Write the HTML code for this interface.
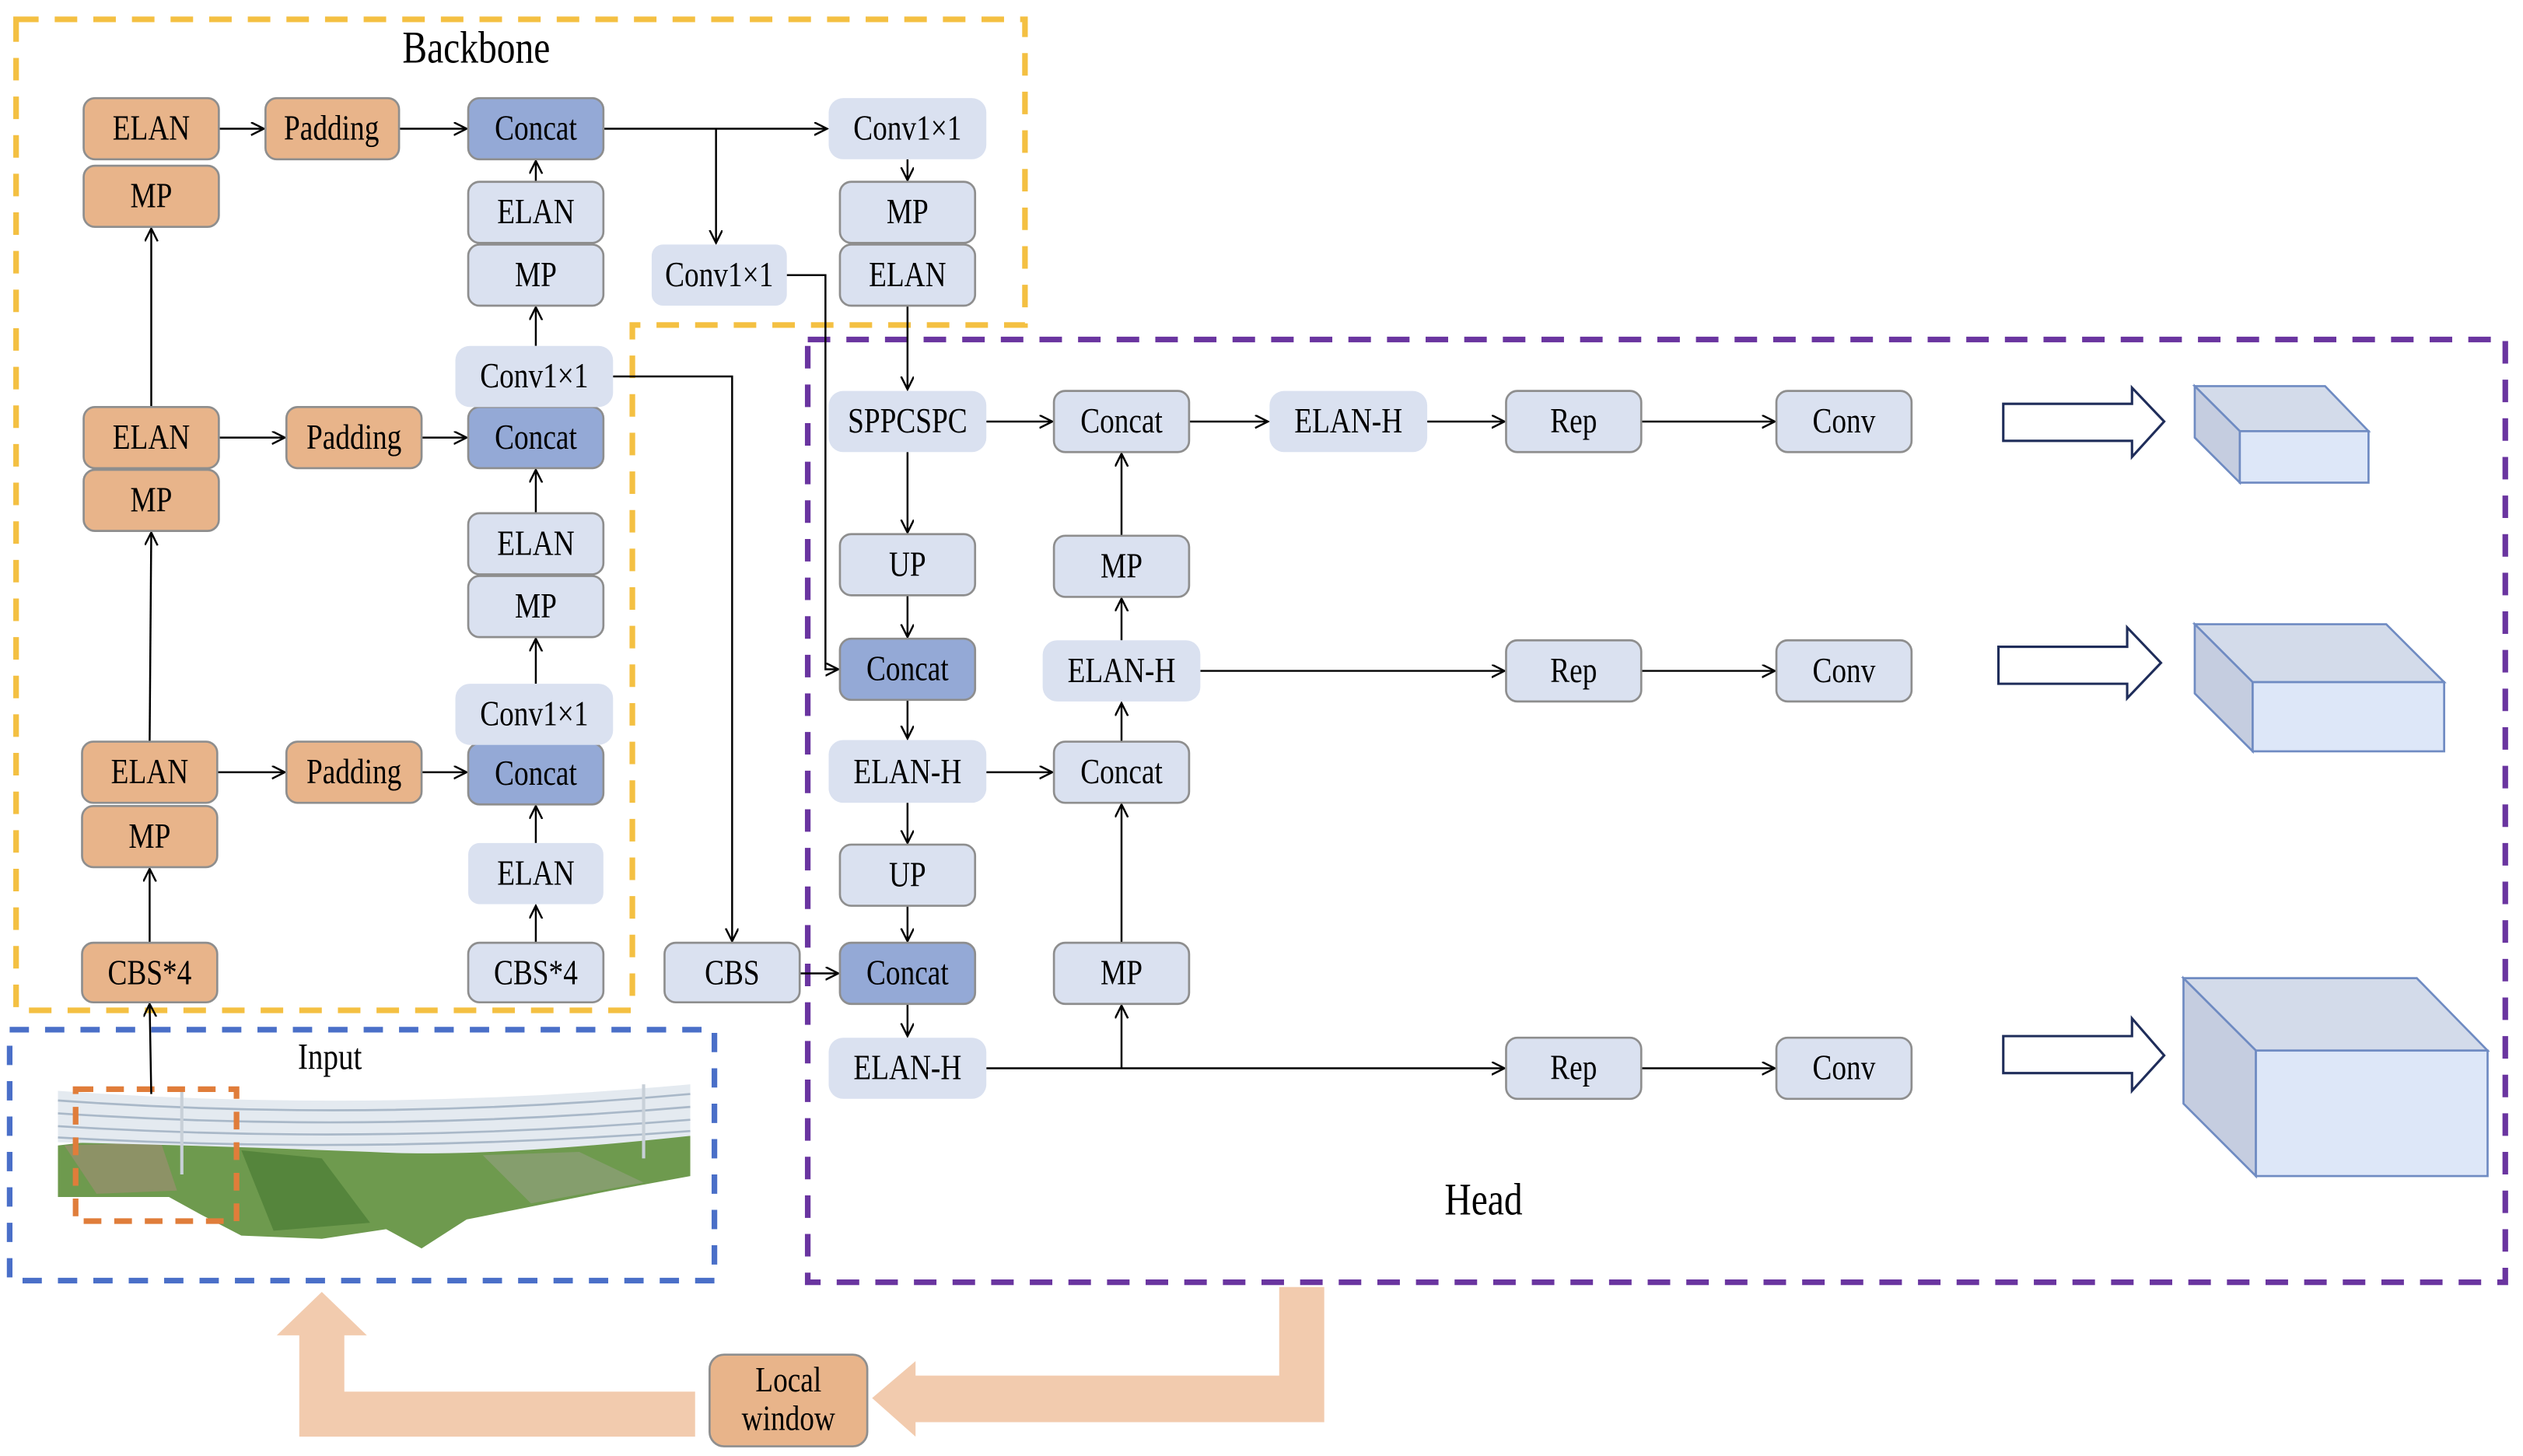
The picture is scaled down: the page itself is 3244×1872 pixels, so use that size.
<!DOCTYPE html>
<html><head><meta charset="utf-8"><style>
html,body{margin:0;padding:0;background:#fff;}
svg{display:block;}
.o{fill:#E8B48A;stroke:#8E8E8E;stroke-width:1.3}
.l{fill:#DAE1F0;stroke:#8E8E8E;stroke-width:1.3}
.n{fill:#DAE1F0;stroke:none}
.b{fill:#94A9D6;stroke:#8E8E8E;stroke-width:1.3}
text{font-family:"Liberation Serif","DejaVu Serif",serif;font-size:22px;fill:#000;text-anchor:middle;dominant-baseline:central;transform-box:fill-box;transform-origin:center;transform:scaleX(0.82)}
.ln{stroke:#000;stroke-width:1.2;fill:none}
</style></head><body>
<svg width="3244" height="1872" viewBox="0 0 1568 905" preserveAspectRatio="none" xmlns="http://www.w3.org/2000/svg">
<defs>
<marker id="a" markerUnits="userSpaceOnUse" markerWidth="10" markerHeight="10" refX="8" refY="4" orient="auto">
<path d="M0,0 L8,4 L0,8" fill="none" stroke="#000" stroke-width="1.2"/>
</marker>
</defs>

<path d="M10,12 H637 V202 H393 V628 H10 Z" fill="none" stroke="#F4C042" stroke-width="3.5" stroke-dasharray="14,10"/>
<rect x="502" y="211" width="1055" height="586" fill="none" stroke="#6A35A0" stroke-width="3.5" stroke-dasharray="14,10"/>
<rect x="6" y="640" width="438" height="156" fill="none" stroke="#4A6FC8" stroke-width="3.5" stroke-dasharray="12,10"/>

<text x="296" y="30" style="font-size:28px">Backbone</text>
<text x="205" y="657" style="font-size:23px">Input</text>
<text x="922" y="746" style="font-size:28px">Head</text>

<!-- input image approximation -->
<path d="M36,712 L36,744 L105,744 L125,755 L150,768 L200,770 L240,764 L262,776 L290,758 L330,750 L380,740 L429,731 L429,706 L380,704 L330,710 L300,714 L255,714 L210,712 L160,708 L110,705 L70,708 Z" fill="#6E9A4E"/>
<path d="M40,712 L100,710 L110,740 L60,742 Z" fill="#9A8F70" opacity="0.7"/>
<path d="M150,715 L200,720 L230,760 L170,765 Z" fill="#4F7F38" opacity="0.8"/>
<path d="M300,718 L360,716 L400,735 L330,748 Z" fill="#8FA07A" opacity="0.7"/>
<path d="M36,678 Q230,692 429,674 L429,706 Q300,720 230,716 Q130,712 36,710 Z" fill="#E4EAF0"/>
<g stroke="#A9B8C8" stroke-width="1.3" fill="none">
<path d="M36,684 Q230,698 429,680"/>
<path d="M36,692 Q230,705 429,688"/>
<path d="M36,700 Q230,712 429,696"/>
<path d="M36,707 Q230,718 429,703"/>
</g>
<line x1="113" y1="678" x2="113" y2="730" stroke="#C8D0D8" stroke-width="2"/>
<line x1="400" y1="674" x2="400" y2="720" stroke="#C8D0D8" stroke-width="2"/>
<rect x="47" y="677" width="100" height="82" fill="none" stroke="#E07D3A" stroke-width="3.5" stroke-dasharray="11,8"/>

<path d="M186,893 L186,830 L172,830 L200,803 L228,830 L214,830 L214,865 L432,865 L432,893 Z" fill="#F2CBAE"/>
<path d="M823,800 L823,884 L569,884 L569,893 L542,869 L569,846 L569,855 L795,855 L795,800 Z" fill="#F2CBAE"/>
<rect x="441" y="842" width="98" height="57" rx="9" class="o"/>
<text x="490" y="858">Local</text>
<text x="490" y="882">window</text>

<g class="ln">
<line x1="136" y1="80" x2="164" y2="80" marker-end="url(#a)"/>
<line x1="248" y1="80" x2="290" y2="80" marker-end="url(#a)"/>
<line x1="375" y1="80" x2="514" y2="80" marker-end="url(#a)"/>
<line x1="445" y1="80" x2="445" y2="151" marker-end="url(#a)"/>
<line x1="564" y1="99" x2="564" y2="112" marker-end="url(#a)"/>
<line x1="564" y1="190" x2="564" y2="242" marker-end="url(#a)"/>
<path d="M489,171 H513 V416 H521" marker-end="url(#a)"/>
<line x1="333" y1="113" x2="333" y2="100" marker-end="url(#a)"/>
<line x1="333" y1="215" x2="333" y2="191" marker-end="url(#a)"/>
<line x1="333" y1="319" x2="333" y2="292" marker-end="url(#a)"/>
<line x1="333" y1="425" x2="333" y2="397" marker-end="url(#a)"/>
<line x1="333" y1="524" x2="333" y2="501" marker-end="url(#a)"/>
<line x1="333" y1="586" x2="333" y2="563" marker-end="url(#a)"/>
<line x1="94" y1="253" x2="94" y2="142" marker-end="url(#a)"/>
<line x1="93" y1="461" x2="94" y2="331" marker-end="url(#a)"/>
<line x1="93" y1="586" x2="93" y2="540" marker-end="url(#a)"/>
<line x1="94" y1="680" x2="93" y2="624" marker-end="url(#a)"/>
<line x1="136" y1="272" x2="177" y2="272" marker-end="url(#a)"/>
<line x1="262" y1="272" x2="290" y2="272" marker-end="url(#a)"/>
<line x1="135" y1="480" x2="177" y2="480" marker-end="url(#a)"/>
<line x1="262" y1="480" x2="290" y2="480" marker-end="url(#a)"/>
<path d="M381,234 H455 V585" marker-end="url(#a)"/>
<line x1="497" y1="605" x2="521" y2="605" marker-end="url(#a)"/>
<line x1="564" y1="281" x2="564" y2="331" marker-end="url(#a)"/>
<line x1="564" y1="370" x2="564" y2="396" marker-end="url(#a)"/>
<line x1="564" y1="435" x2="564" y2="459" marker-end="url(#a)"/>
<line x1="564" y1="499" x2="564" y2="524" marker-end="url(#a)"/>
<line x1="564" y1="563" x2="564" y2="585" marker-end="url(#a)"/>
<line x1="564" y1="624" x2="564" y2="644" marker-end="url(#a)"/>
<line x1="613" y1="262" x2="654" y2="262" marker-end="url(#a)"/>
<line x1="739" y1="262" x2="788" y2="262" marker-end="url(#a)"/>
<line x1="887" y1="262" x2="935" y2="262" marker-end="url(#a)"/>
<line x1="1020" y1="262" x2="1103" y2="262" marker-end="url(#a)"/>
<line x1="697" y1="333" x2="697" y2="282" marker-end="url(#a)"/>
<line x1="697" y1="398" x2="697" y2="372" marker-end="url(#a)"/>
<line x1="697" y1="461" x2="697" y2="437" marker-end="url(#a)"/>
<line x1="746" y1="417" x2="935" y2="417" marker-end="url(#a)"/>
<line x1="1020" y1="417" x2="1103" y2="417" marker-end="url(#a)"/>
<line x1="613" y1="480" x2="654" y2="480" marker-end="url(#a)"/>
<line x1="697" y1="586" x2="697" y2="500" marker-end="url(#a)"/>
<line x1="613" y1="664" x2="935" y2="664" marker-end="url(#a)"/>
<line x1="697" y1="664" x2="697" y2="625" marker-end="url(#a)"/>
<line x1="1020" y1="664" x2="1103" y2="664" marker-end="url(#a)"/>
</g>

<rect x="52" y="61" width="84" height="38" rx="7" class="o"/><text x="94" y="80">ELAN</text>
<rect x="52" y="103" width="84" height="38" rx="7" class="o"/><text x="94" y="122">MP</text>
<rect x="165" y="61" width="83" height="38" rx="7" class="o"/><text x="206" y="80">Padding</text>
<rect x="291" y="61" width="84" height="38" rx="7" class="b"/><text x="333" y="80">Concat</text>
<rect x="291" y="113" width="84" height="38" rx="7" class="l"/><text x="333" y="132">ELAN</text>
<rect x="291" y="152" width="84" height="38" rx="7" class="l"/><text x="333" y="171">MP</text>
<rect x="515" y="61" width="98" height="38" rx="9" class="n"/><text x="564" y="80">Conv1×1</text>
<rect x="522" y="113" width="84" height="38" rx="7" class="l"/><text x="564" y="132">MP</text>
<rect x="522" y="152" width="84" height="38" rx="7" class="l"/><text x="564" y="171">ELAN</text>
<rect x="405" y="152" width="84" height="38" rx="7" class="n"/><text x="447" y="171">Conv1×1</text>

<rect x="52" y="253" width="84" height="38" rx="7" class="o"/><text x="94" y="272">ELAN</text>
<rect x="52" y="292" width="84" height="38" rx="7" class="o"/><text x="94" y="311">MP</text>
<rect x="178" y="253" width="84" height="38" rx="7" class="o"/><text x="220" y="272">Padding</text>
<rect x="291" y="253" width="84" height="38" rx="7" class="b"/><text x="333" y="272">Concat</text>
<rect x="283" y="215" width="98" height="38" rx="9" class="n"/><text x="332" y="234">Conv1×1</text>
<rect x="291" y="319" width="84" height="38" rx="7" class="l"/><text x="333" y="338">ELAN</text>
<rect x="291" y="358" width="84" height="38" rx="7" class="l"/><text x="333" y="377">MP</text>

<rect x="51" y="461" width="84" height="38" rx="7" class="o"/><text x="93" y="480">ELAN</text>
<rect x="51" y="501" width="84" height="38" rx="7" class="o"/><text x="93" y="520">MP</text>
<rect x="178" y="461" width="84" height="38" rx="7" class="o"/><text x="220" y="480">Padding</text>
<rect x="291" y="462" width="84" height="38" rx="7" class="b"/><text x="333" y="481">Concat</text>
<rect x="283" y="425" width="98" height="38" rx="9" class="n"/><text x="332" y="444">Conv1×1</text>
<rect x="291" y="524" width="84" height="38" rx="7" class="n"/><text x="333" y="543">ELAN</text>
<rect x="51" y="586" width="84" height="37" rx="7" class="o"/><text x="93" y="605">CBS*4</text>
<rect x="291" y="586" width="84" height="37" rx="7" class="l"/><text x="333" y="605">CBS*4</text>
<rect x="413" y="586" width="84" height="37" rx="7" class="l"/><text x="455" y="605">CBS</text>

<rect x="515" y="243" width="98" height="38" rx="9" class="n"/><text x="564" y="262">SPPCSPC</text>
<rect x="522" y="332" width="84" height="38" rx="7" class="l"/><text x="564" y="351">UP</text>
<rect x="522" y="397" width="84" height="38" rx="7" class="b"/><text x="564" y="416">Concat</text>
<rect x="515" y="460" width="98" height="39" rx="9" class="n"/><text x="564" y="480">ELAN-H</text>
<rect x="522" y="525" width="84" height="38" rx="7" class="l"/><text x="564" y="544">UP</text>
<rect x="522" y="586" width="84" height="38" rx="7" class="b"/><text x="564" y="605">Concat</text>
<rect x="515" y="645" width="98" height="38" rx="9" class="n"/><text x="564" y="664">ELAN-H</text>

<rect x="655" y="243" width="84" height="38" rx="7" class="l"/><text x="697" y="262">Concat</text>
<rect x="655" y="333" width="84" height="38" rx="7" class="l"/><text x="697" y="352">MP</text>
<rect x="648" y="398" width="98" height="38" rx="9" class="n"/><text x="697" y="417">ELAN-H</text>
<rect x="655" y="461" width="84" height="38" rx="7" class="l"/><text x="697" y="480">Concat</text>
<rect x="655" y="586" width="84" height="38" rx="7" class="l"/><text x="697" y="605">MP</text>
<rect x="789" y="243" width="98" height="38" rx="9" class="n"/><text x="838" y="262">ELAN-H</text>

<rect x="936" y="243" width="84" height="38" rx="7" class="l"/><text x="978" y="262">Rep</text>
<rect x="1104" y="243" width="84" height="38" rx="7" class="l"/><text x="1146" y="262">Conv</text>
<rect x="936" y="398" width="84" height="38" rx="7" class="l"/><text x="978" y="417">Rep</text>
<rect x="1104" y="398" width="84" height="38" rx="7" class="l"/><text x="1146" y="417">Conv</text>
<rect x="936" y="645" width="84" height="38" rx="7" class="l"/><text x="978" y="664">Rep</text>
<rect x="1104" y="645" width="84" height="38" rx="7" class="l"/><text x="1146" y="664">Conv</text>

<g fill="#fff" stroke="#1F2D5A" stroke-width="1.5">
<path d="M1245,251 H1325 V241 L1345,262 L1325,284 V274 H1245 Z"/>
<path d="M1242,402 H1322 V390 L1343,412 L1322,434 V425 H1242 Z"/>
<path d="M1245,644 H1325 V633 L1345,656 L1325,678 V667 H1245 Z"/>
</g>

<g stroke="#6F8BC2" stroke-width="1.3">
<path d="M1364,240 L1445,240 L1472,268 L1392,268 Z" fill="#D3DBEA"/>
<path d="M1364,240 L1392,268 L1392,300 L1364,272 Z" fill="#C5CDE0"/>
<rect x="1392" y="268" width="80" height="32" fill="#DDE7F8"/>
<path d="M1364,388 L1483,388 L1519,424 L1400,424 Z" fill="#D3DBEA"/>
<path d="M1364,388 L1400,424 L1400,467 L1364,431 Z" fill="#C5CDE0"/>
<rect x="1400" y="424" width="119" height="43" fill="#DDE7F8"/>
<path d="M1357,608 L1502,608 L1546,653 L1402,653 Z" fill="#D3DBEA"/>
<path d="M1357,608 L1402,653 L1402,731 L1357,686 Z" fill="#C5CDE0"/>
<rect x="1402" y="653" width="144" height="78" fill="#DDE7F8"/>
</g>
</svg>
</body></html>
